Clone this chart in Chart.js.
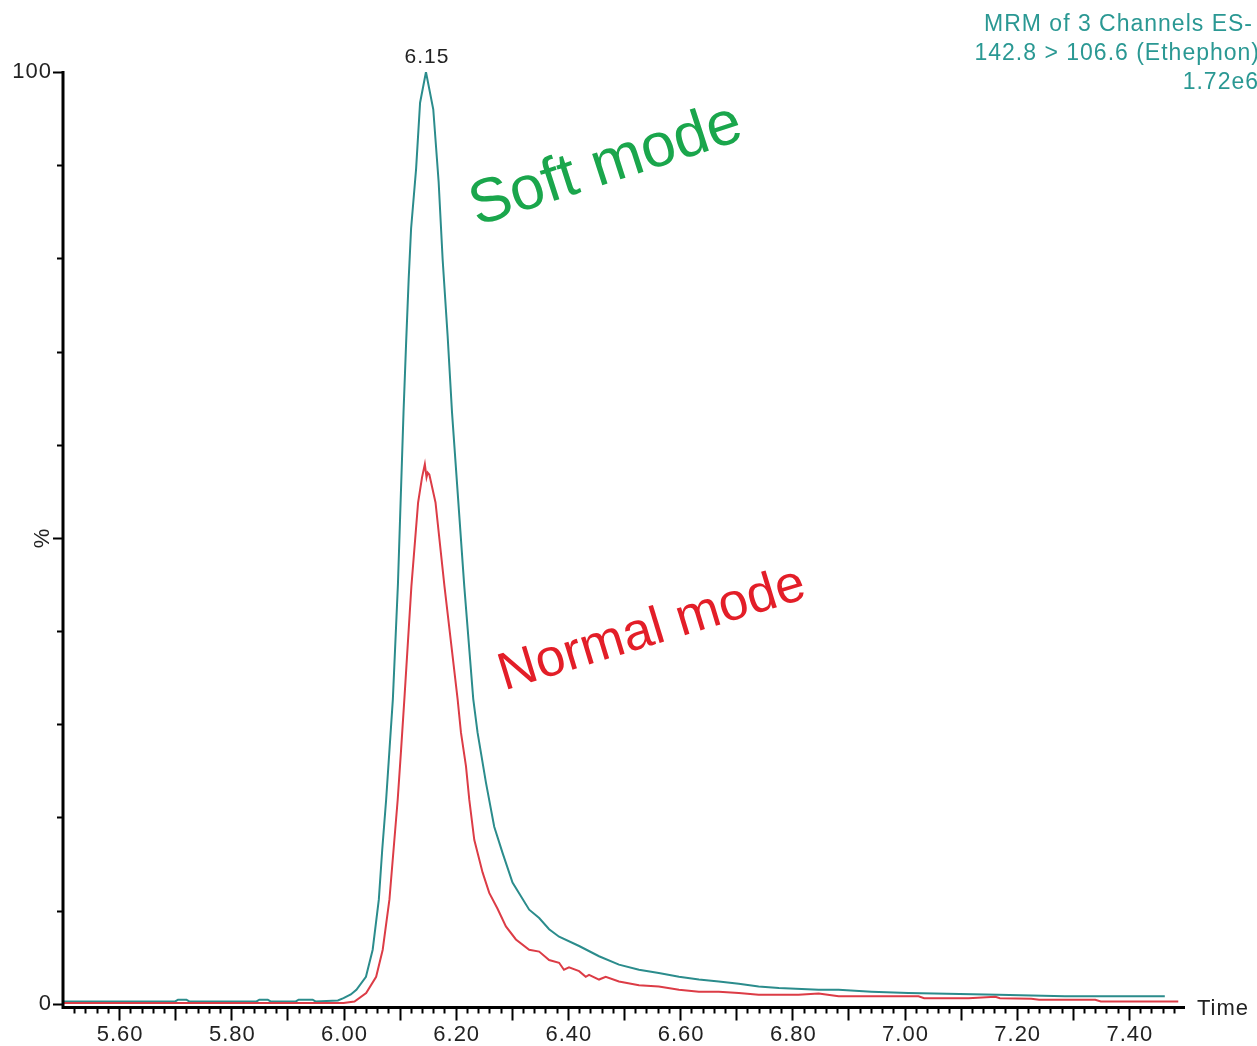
<!DOCTYPE html>
<html>
<head>
<meta charset="utf-8">
<title>Ethephon MRM</title>
<script src="https://cdn.jsdelivr.net/npm/chart.js@4.4.1/dist/chart.umd.min.js"></script>
<style>
body { margin: 0; background: #fff; }
canvas { display: block; }
</style>
</head>
<body>
<canvas id="mrmChart" width="1257" height="1046"></canvas>
<script>
// Soft mode trace (teal), time in min, intensity in %
var softTime = [5.50, 5.70, 5.705, 5.72, 5.725, 5.845, 5.85, 5.865, 5.87, 5.915, 5.92, 5.945, 5.95, 5.99,
    6.000, 6.013, 6.023, 6.040, 6.052, 6.063, 6.069, 6.076, 6.082, 6.088, 6.097, 6.107, 6.1116, 6.1162,
    6.1205, 6.1294, 6.1365, 6.147, 6.160, 6.1696, 6.1767, 6.1856, 6.1934, 6.2153, 6.2313, 6.239, 6.254,
    6.2687, 6.2835, 6.3013, 6.331, 6.3488, 6.3665, 6.3843, 6.42, 6.4555, 6.491, 6.5267, 6.562, 6.598,
    6.6335, 6.669, 6.7046, 6.74, 6.776, 6.847, 6.8826, 6.941, 7.007, 7.167, 7.286, 7.464];
var softPct = [0.25, 0.25, 0.43, 0.43, 0.25, 0.25, 0.43, 0.43, 0.25, 0.25, 0.43, 0.43, 0.25, 0.35,
    0.6, 1.0, 1.5, 2.9, 5.8, 11.2, 16.5, 21.9, 27.3, 32.7, 45.0, 63.5, 70.9, 77.8,
    83.2, 89.6, 96.7, 100, 96.0, 88.2, 79.9, 71.7, 63.5, 44.8, 32.7, 29.1, 23.7,
    19.0, 16.2, 13.0, 10.1, 9.2, 8.0, 7.2, 6.2, 5.1, 4.2, 3.65, 3.3, 2.9,
    2.6, 2.4, 2.15, 1.86, 1.7, 1.5, 1.5, 1.3, 1.15, 0.97, 0.8, 0.8];

// Normal mode trace (red)
var normalTime = [5.50, 6.00, 6.0196, 6.0404, 6.0582, 6.0699, 6.0819, 6.0907, 6.0966, 6.1027, 6.1085,
    6.121, 6.133, 6.140, 6.145, 6.148, 6.150, 6.153, 6.164, 6.180, 6.2034, 6.2094, 6.2183, 6.2242,
    6.2331, 6.2479, 6.2598, 6.2746, 6.2895, 6.3073, 6.331, 6.3488, 6.3665, 6.3843, 6.393, 6.402,
    6.42, 6.4318, 6.4377, 6.4555, 6.4674, 6.491, 6.5267, 6.562, 6.598, 6.6335, 6.669, 6.7046, 6.74,
    6.811, 6.847, 6.8826, 6.906, 7.025, 7.035, 7.114, 7.162, 7.17, 7.226, 7.24, 7.34, 7.35, 7.488];
var normalPct = [0.08, 0.08, 0.25, 1.15, 2.9, 5.8, 11.2, 17.6, 21.9, 27.3, 32.7,
    44.8, 53.8, 56.5, 57.9, 56.5, 57.0, 56.8, 53.8, 44.8, 32.7, 29.1, 25.5, 21.9,
    17.6, 14.1, 11.9, 10.2, 8.3, 6.9, 5.8, 5.6, 4.7, 4.4, 3.65, 3.9,
    3.5, 2.9, 3.1, 2.6, 2.9, 2.4, 2.0, 1.86, 1.5, 1.3, 1.3, 1.15, 0.97,
    0.97, 1.1, 0.8, 0.8, 0.8, 0.6, 0.6, 0.75, 0.6, 0.55, 0.43, 0.43, 0.25, 0.25];

var xTickLabels = ['5.60', '5.80', '6.00', '6.20', '6.40', '6.60', '6.80', '7.00', '7.20', '7.40'];
var yTickLabels = ['0', '100'];
var headerLines = ['MRM of 3 Channels ES-', '142.8 > 106.6 (Ethephon)', '1.72e6'];
var peakLabel = '6.15';
var peakTime = 6.147;

var FONT = '"Liberation Sans", Arial, sans-serif';

function pairs(xs, ys) {
    return xs.map(function(t, i) { return { x: t, y: ys[i] }; });
}

var chromAxes = {
    id: 'chromAxes',
    afterDraw: function(chart) {
        var ctx = chart.ctx;
        var xs = chart.scales.x, ys = chart.scales.y;
        var xLeft = xs.getPixelForValue(xs.min), xRight = xs.getPixelForValue(xs.max);
        var yTop = ys.getPixelForValue(ys.max), yBase = ys.getPixelForValue(ys.min);
        ctx.save();
        ctx.strokeStyle = '#000';
        ctx.fillStyle = '#222';

        // axis lines
        ctx.lineWidth = 3;
        ctx.beginPath();
        ctx.moveTo(xLeft, yTop - 1);
        ctx.lineTo(xLeft, yBase);
        ctx.lineTo(xRight, yBase);
        ctx.stroke();

        // x ticks: minor every 0.02, long every 0.1
        ctx.lineWidth = 2;
        ctx.beginPath();
        for (var i = 1; i < 100; i++) {
            var t = 5.5 + i * 0.02;
            if (t > xs.max - 0.001) break;
            var px = Math.round(xs.getPixelForValue(t)) + 0.5;
            var len = (i % 5 === 0) ? 13 : 6;
            ctx.moveTo(px, yBase);
            ctx.lineTo(px, yBase + len);
        }
        ctx.stroke();

        ctx.letterSpacing = '1px';
        ctx.font = '22px ' + FONT;
        ctx.textAlign = 'center';
        ctx.textBaseline = 'middle';
        xTickLabels.forEach(function(lbl) {
            ctx.fillText(lbl, xs.getPixelForValue(parseFloat(lbl)) + 1, yBase + 27);
        });
        ctx.textAlign = 'left';
        ctx.fillText('Time', xRight + 12, yBase + 1);

        // y ticks
        ctx.beginPath();
        for (var v = 0; v <= 100; v += 10) {
            var py = Math.round(ys.getPixelForValue(v)) + 0.5;
            var l = (v === 0 || v === 50 || v === 100) ? 10 : 6;
            ctx.moveTo(xLeft, py);
            ctx.lineTo(xLeft - l, py);
        }
        ctx.stroke();
        ctx.textAlign = 'right';
        yTickLabels.forEach(function(lbl) {
            ctx.fillText(lbl, xLeft - 11, ys.getPixelForValue(parseFloat(lbl)));
        });
        ctx.save();
        ctx.translate(xLeft - 20, ys.getPixelForValue(50));
        ctx.rotate(-Math.PI / 2);
        ctx.textAlign = 'center';
        ctx.fillText('%', 0, 0);
        ctx.restore();

        // peak apex label
        ctx.textAlign = 'center';
        ctx.font = '21px ' + FONT;
        ctx.fillText(peakLabel, xs.getPixelForValue(peakTime) + 1, ys.getPixelForValue(100) - 15);

        // header
        ctx.fillStyle = '#2a9893';
        ctx.font = '23px ' + FONT;
        ctx.textAlign = 'right';
        ctx.fillText(headerLines[0], 1253, 25);
        ctx.fillText(headerLines[1], 1260, 54);
        ctx.fillText(headerLines[2], 1259, 83);
        ctx.letterSpacing = '0px';

        // trace names
        ctx.save();
        ctx.translate(606, 166);
        ctx.rotate(-18 * Math.PI / 180);
        ctx.fillStyle = '#1aa64c';
        ctx.font = '62px ' + FONT;
        ctx.textAlign = 'center';
        ctx.fillText('Soft mode', 0, 0);
        ctx.restore();

        ctx.save();
        ctx.translate(652, 630);
        ctx.rotate(-17 * Math.PI / 180);
        ctx.fillStyle = '#e31e28';
        ctx.font = '53px ' + FONT;
        ctx.textAlign = 'center';
        ctx.fillText('Normal mode', 0, 0);
        ctx.restore();

        ctx.restore();
    }
};

var ctx = document.getElementById('mrmChart').getContext('2d');
var mrmChart = new Chart(ctx, {
    type: 'line',
    data: {
        datasets: [{
            label: 'Normal mode',
            data: pairs(normalTime, normalPct),
            borderColor: '#dc3c46',
            borderWidth: 2,
            pointRadius: 0,
            tension: 0,
            fill: false
        }, {
            label: 'Soft mode',
            data: pairs(softTime, softPct),
            borderColor: '#2b8c8c',
            borderWidth: 2,
            pointRadius: 0,
            tension: 0,
            fill: false
        }]
    },
    options: {
        responsive: false,
        animation: false,
        devicePixelRatio: 1,
        layout: { padding: { left: 63, right: 72, top: 72, bottom: 38.5 } },
        plugins: { legend: { display: false }, tooltip: { enabled: false } },
        scales: {
            x: { type: 'linear', min: 5.5, max: 7.5, display: false },
            y: { type: 'linear', min: -0.4, max: 100, display: false }
        }
    },
    plugins: [chromAxes]
});
</script>
</body>
</html>
